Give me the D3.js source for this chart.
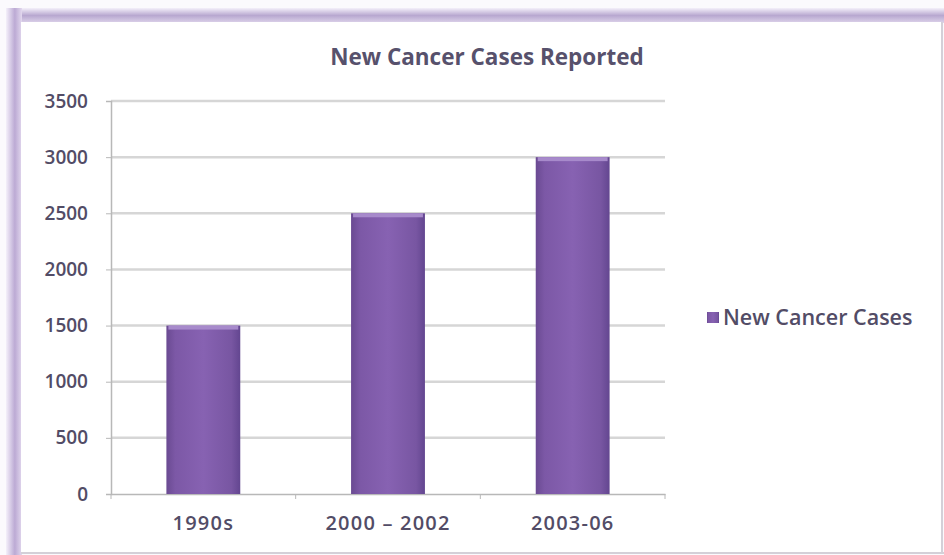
<!DOCTYPE html>
<html>
<head>
<meta charset="utf-8">
<script src="https://cdn.jsdelivr.net/npm/d3@7"></script>
<style>
  body { margin: 0; background: #fff; }
  svg { display: block; }
  svg text { font-family: "Open Sans", "Liberation Sans", sans-serif; }
</style>
</head>
<body>
<div class="chart"></div>
<script>
const categories = ['1990s', '2000 – 2002', '2003-06'];
const values = [1500, 2500, 3000];
const yTicks = [0, 500, 1000, 1500, 2000, 2500, 3000, 3500];
const seriesName = 'New Cancer Cases';
const chartTitle = 'New Cancer Cases Reported';

const W = 944, H = 555;
const plot = {left: 111, right: 665, top: 101, bottom: 494};
const textColor = '#524c66';

const svg = d3.select('.chart')
    .append('svg')
    .attr('width', W)
    .attr('height', H);

const defs = svg.append('defs');

const frameGrad = defs.append('linearGradient')
    .attr('id', 'frameTop')
    .attr('x1', 0).attr('y1', 0).attr('x2', 0).attr('y2', 1);
frameGrad.append('stop').attr('offset', '0%').attr('stop-color', '#f4f0fa');
frameGrad.append('stop').attr('offset', '50%').attr('stop-color', '#b8a8d0');
frameGrad.append('stop').attr('offset', '100%').attr('stop-color', '#ddd3ea');

const frameLeft = defs.append('linearGradient')
    .attr('id', 'frameLeft')
    .attr('x1', 0).attr('y1', 0).attr('x2', 1).attr('y2', 0);
frameLeft.append('stop').attr('offset', '0%').attr('stop-color', '#f4f0fa');
frameLeft.append('stop').attr('offset', '55%').attr('stop-color', '#bcaad4');
frameLeft.append('stop').attr('offset', '100%').attr('stop-color', '#e2d8ee');

const barGrad = defs.append('linearGradient')
    .attr('id', 'barFill')
    .attr('x1', 0).attr('y1', 0).attr('x2', 1).attr('y2', 0);
barGrad.append('stop').attr('offset', '0%').attr('stop-color', '#6a4a92');
barGrad.append('stop').attr('offset', '12%').attr('stop-color', '#7c58a6');
barGrad.append('stop').attr('offset', '50%').attr('stop-color', '#8762b2');
barGrad.append('stop').attr('offset', '88%').attr('stop-color', '#7856a2');
barGrad.append('stop').attr('offset', '100%').attr('stop-color', '#634690');

// outer frame
svg.append('rect').attr('x', 0).attr('y', 0).attr('width', W).attr('height', H).attr('fill', '#fbfafd');
svg.append('rect').attr('x', 8).attr('y', 8).attr('width', W - 8).attr('height', 15).attr('fill', 'url(#frameTop)');
svg.append('rect').attr('x', 6).attr('y', 8).attr('width', 16).attr('height', H - 8).attr('fill', 'url(#frameLeft)');
svg.append('rect').attr('x', 21).attr('y', 22).attr('width', W - 23).attr('height', H - 25).attr('fill', '#fff');
svg.append('line').attr('x1', W - 2).attr('x2', W - 2).attr('y1', 22).attr('y2', H - 2)
    .attr('stroke', '#d4d0d8').attr('stroke-width', 2);
svg.append('line').attr('x1', 21).attr('x2', W).attr('y1', H - 2).attr('y2', H - 2)
    .attr('stroke', '#d4d0d8').attr('stroke-width', 2);

const xScale = d3.scaleBand()
    .domain(categories)
    .range([plot.left, plot.right])
    .paddingInner(0.6)
    .paddingOuter(0.3);

const yScale = d3.scaleLinear()
    .domain([0, 3500])
    .range([plot.bottom, plot.top]);

// gridlines
svg.append('g')
    .selectAll('line')
    .data(yTicks.filter(d => d > 0))
    .join('line')
    .attr('x1', plot.left)
    .attr('x2', plot.right)
    .attr('y1', d => yScale(d))
    .attr('y2', d => yScale(d))
    .attr('stroke', '#d6d6d6')
    .attr('stroke-width', 2.5);

// y axis
const yAxis = d3.axisLeft(yScale)
    .tickValues(yTicks)
    .tickFormat(d3.format('d'))
    .tickSize(5)
    .tickPadding(18);
const yG = svg.append('g')
    .attr('transform', `translate(${plot.left},0)`)
    .call(yAxis)
    .attr('font-family', null);
yG.select('.domain').attr('stroke', '#b8b8b8').attr('stroke-width', 1.5);
yG.selectAll('.tick line').attr('stroke', '#b8b8b8');
yG.selectAll('.tick text')
    .attr('fill', textColor)
    .attr('font-size', 19)
    .attr('font-weight', 600);

// x axis
const xAxis = d3.axisBottom(xScale)
    .tickSize(0)
    .tickPadding(22);
const xG = svg.append('g')
    .attr('transform', `translate(0,${plot.bottom})`)
    .call(xAxis)
    .attr('font-family', null);
xG.select('.domain').attr('stroke', '#b8b8b8').attr('stroke-width', 1.5);
xG.selectAll('.tick text')
    .attr('fill', textColor)
    .attr('font-size', 20)
    .attr('font-weight', 600)
    .attr('letter-spacing', 1.2);

// category separators on x axis
svg.append('g')
    .selectAll('line')
    .data(d3.range(categories.length + 1))
    .join('line')
    .attr('x1', i => plot.left + i * (plot.right - plot.left) / categories.length)
    .attr('x2', i => plot.left + i * (plot.right - plot.left) / categories.length)
    .attr('y1', plot.bottom)
    .attr('y2', plot.bottom + 5)
    .attr('stroke', '#b8b8b8');

// bars
const bars = svg.append('g')
    .selectAll('g')
    .data(categories.map((c, i) => ({cat: c, value: values[i]})))
    .join('g');

bars.append('rect')
    .attr('x', d => xScale(d.cat))
    .attr('y', d => yScale(d.value))
    .attr('width', xScale.bandwidth())
    .attr('height', d => plot.bottom - yScale(d.value))
    .attr('fill', 'url(#barFill)');

bars.append('rect')
    .attr('x', d => xScale(d.cat) + 2)
    .attr('y', d => yScale(d.value))
    .attr('width', xScale.bandwidth() - 4)
    .attr('height', 4)
    .attr('fill', '#a78acb');

// title
svg.append('text')
    .attr('x', 487)
    .attr('y', 65)
    .attr('text-anchor', 'middle')
    .attr('font-size', 22.5)
    .attr('font-weight', 'bold')
    .attr('fill', '#57516c')
    .text(chartTitle);

// legend
const legend = svg.append('g').attr('transform', 'translate(707,312)');
legend.append('rect')
    .attr('width', 12)
    .attr('height', 11)
    .attr('fill', 'url(#barFill)');
legend.append('text')
    .attr('x', 16)
    .attr('y', 13)
    .attr('font-size', 21.5)
    .attr('font-weight', 600)
    .attr('fill', textColor)
    .text(seriesName);
</script>
</body>
</html>
